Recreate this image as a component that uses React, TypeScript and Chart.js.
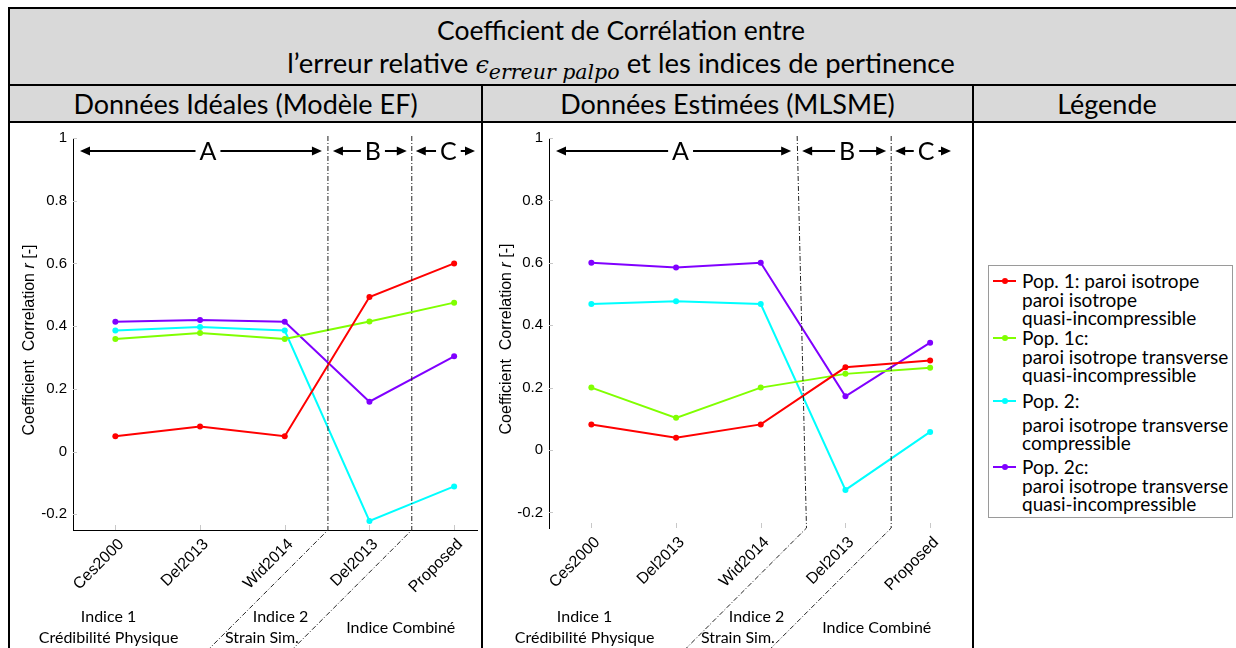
import React, { useEffect, useRef } from 'react';
import { Chart, registerables } from 'chart.js';

Chart.register(...registerables);

// ---------- data ----------
const categories = ['Ces2000', 'Del2013', 'Wid2014', 'Del2013', 'Proposed'];
const seriesNames = ['Pop. 1', 'Pop. 1c', 'Pop. 2', 'Pop. 2c'];
const seriesColors = ['#ff0000', '#80ff00', '#00ffff', '#8000ff'];

const idealPop1 = [0.049, 0.080, 0.049, 0.493, 0.600];
const idealPop1c = [0.359, 0.378, 0.359, 0.415, 0.475];
const idealPop2 = [0.386, 0.397, 0.386, -0.221, -0.111];
const idealPop2c = [0.414, 0.420, 0.414, 0.159, 0.304];

const estPop1 = [0.082, 0.039, 0.082, 0.265, 0.287];
const estPop1c = [0.200, 0.103, 0.200, 0.244, 0.264];
const estPop2 = [0.468, 0.477, 0.468, -0.128, 0.058];
const estPop2c = [0.600, 0.585, 0.600, 0.172, 0.344];

const yTickValues = [-0.2, 0, 0.2, 0.4, 0.6, 0.8, 1];
const yTickLabels = ['-0.2', '0', '0.2', '0.4', '0.6', '0.8', '1'];

const groupLetters = ['A', 'B', 'C'];
const groupLabelLines = [['Indice 1', 'Crédibilité Physique'], ['Indice 2', 'Strain Sim.'], ['Indice Combiné']];

const legendLines = [
  ['Pop. 1: paroi isotrope', 'paroi isotrope', 'quasi-incompressible'],
  ['Pop. 1c:', 'paroi isotrope transverse', 'quasi-incompressible'],
  ['Pop. 2:', 'paroi isotrope transverse', 'compressible'],
  ['Pop. 2c:', 'paroi isotrope transverse', 'quasi-incompressible'],
];

const UI_FONT = 'Lato, "Open Sans", sans-serif';
const AX_FONT = '"Liberation Sans", Arial, sans-serif';
const MATH_FONT = '"DejaVu Serif", serif';

type ChartProps = {
  series: number[][];
  xLine: boolean;
  dividers: { top: number; bottom: number }[];
  rightPad: number;
  xHeight: number;
  yWidth: number;
  titleX: number;
};

function annotationPlugin(props: ChartProps) {
  return {
    id: 'annot',
    afterDraw(chart: any) {
      const { ctx, chartArea: ca, scales } = chart;
      const xs = scales.x;
      const ys = scales.y;
      const H = chart.height;
      ctx.save();
      // small inner ticks
      ctx.strokeStyle = '#c8c8c8';
      ctx.lineWidth = 1;
      ctx.setLineDash([]);
      categories.forEach((_, i) => {
        const px = Math.round(xs.getPixelForValue(i)) + 0.5;
        ctx.beginPath();
        ctx.moveTo(px, ca.bottom);
        ctx.lineTo(px, ca.bottom - 5);
        ctx.stroke();
      });
      yTickValues.forEach((v) => {
        const py = Math.round(ys.getPixelForValue(v)) + 0.5;
        ctx.beginPath();
        ctx.moveTo(ca.left, py);
        ctx.lineTo(ca.left + 4, py);
        ctx.stroke();
      });
      // dividers
      ctx.strokeStyle = '#222';
      ctx.lineWidth = 1;
      ctx.setLineDash([5, 2, 1, 2]);
      const divTop: number[] = [];
      props.dividers.forEach((d) => {
        const xt = xs.getPixelForValue(d.top);
        const xb = xs.getPixelForValue(d.bottom);
        divTop.push(xt);
        ctx.beginPath();
        ctx.moveTo(xt, ca.top - 2);
        ctx.lineTo(xb, ca.bottom);
        ctx.lineTo(xb - (H - ca.bottom) * 1.0, H);
        ctx.stroke();
      });
      ctx.setLineDash([]);
      // arrows
      const segs = [
        [ca.left + 7, divTop[0] - 6],
        [divTop[0] + 5, divTop[1] - 5],
        [divTop[1] + 4, ca.right - 2],
      ];
      const ay = ca.top + 13;
      ctx.font = '25px ' + UI_FONT;
      ctx.textAlign = 'center';
      ctx.textBaseline = 'middle';
      ctx.fillStyle = '#000';
      ctx.strokeStyle = '#000';
      ctx.lineWidth = 2;
      segs.forEach(([a, b], k) => {
        const mid = (a + b) / 2 + (k === 0 ? 7 : 3);
        const half = ctx.measureText(groupLetters[k]).width / 2 + 4;
        ctx.beginPath();
        ctx.moveTo(a + 6, ay);
        ctx.lineTo(mid - half, ay);
        ctx.moveTo(mid + half, ay);
        ctx.lineTo(b - 6, ay);
        ctx.stroke();
        ctx.beginPath();
        ctx.moveTo(a, ay);
        ctx.lineTo(a + 10, ay - 4.5);
        ctx.lineTo(a + 10, ay + 4.5);
        ctx.closePath();
        ctx.moveTo(b, ay);
        ctx.lineTo(b - 10, ay - 4.5);
        ctx.lineTo(b - 10, ay + 4.5);
        ctx.closePath();
        ctx.fill();
        ctx.fillText(groupLetters[k], mid, ay + 1);
      });
      // group labels under the axis
      ctx.font = '16px ' + UI_FONT;
      ctx.fillStyle = '#000';
      const lblX = [[-0.08, -0.08], [1.95, 1.73], [3.37]];
      const lblY = [[H - 31, H - 10], [H - 31, H - 10], [H - 20]];
      groupLabelLines.forEach((lines, g) => {
        lines.forEach((t, j) => {
          ctx.fillText(t, xs.getPixelForValue(lblX[g][j]), lblY[g][j]);
        });
      });
      // y axis title with italic r
      ctx.translate(props.titleX, (ca.top + ca.bottom) / 2 + 6);
      ctx.rotate(-Math.PI / 2);
      const p1 = 'Coefficient  Correlation ';
      const p2 = 'r';
      const p3 = ' [-]';
      const fs = 16;
      ctx.font = fs + 'px ' + AX_FONT;
      const w1 = ctx.measureText(p1).width;
      const w3 = ctx.measureText(p3).width;
      ctx.font = 'italic ' + fs + 'px ' + AX_FONT;
      const w2 = ctx.measureText(p2).width;
      let x0 = -(w1 + w2 + w3) / 2;
      ctx.textAlign = 'left';
      ctx.font = fs + 'px ' + AX_FONT;
      ctx.fillText(p1, x0, 0);
      x0 += w1;
      ctx.font = 'italic ' + fs + 'px ' + AX_FONT;
      ctx.fillText(p2, x0, 0);
      x0 += w2;
      ctx.font = fs + 'px ' + AX_FONT;
      ctx.fillText(p3, x0, 0);
      ctx.restore();
    },
  };
}

function LineChart(props: ChartProps & { left: number; width: number }) {
  const ref = useRef<HTMLCanvasElement>(null);
  useEffect(() => {
    if (!ref.current) return;
    const chart = new Chart(ref.current, {
      type: 'line',
      data: {
        datasets: props.series.map((vals, s) => ({
          label: seriesNames[s],
          data: vals.map((v, i) => ({ x: i, y: v })),
          borderColor: seriesColors[s],
          backgroundColor: seriesColors[s],
          pointBackgroundColor: seriesColors[s],
          pointBorderWidth: 0,
          pointRadius: 3,
          borderWidth: 2,
          tension: 0,
        })),
      },
      options: {
        animation: false,
        responsive: false,
        devicePixelRatio: 1,
        events: [],
        layout: { padding: { left: 0, top: 12, right: props.rightPad, bottom: 0 } },
        plugins: { legend: { display: false }, tooltip: { enabled: false } },
        scales: {
          x: {
            type: 'linear',
            min: -0.5,
            max: 4.27,
            afterBuildTicks: (s: any) => {
              s.ticks = categories.map((_, i) => ({ value: i }));
            },
            afterFit: (s: any) => {
              s.height = props.xHeight;
            },
            ticks: {
              callback: (_v: any, i: number) => categories[i],
              minRotation: 45,
              maxRotation: 45,
              autoSkip: false,
              padding: 5,
              labelOffset: 6,
              color: '#000',
              font: { family: AX_FONT, size: 16 },
            },
            grid: { display: false, drawTicks: false },
            border: { display: props.xLine, color: '#000', width: 1 },
          },
          y: {
            type: 'linear',
            min: -0.25,
            max: 1,
            afterBuildTicks: (s: any) => {
              s.ticks = yTickValues.map((v) => ({ value: v }));
            },
            afterFit: (s: any) => {
              s.width = props.yWidth;
            },
            ticks: {
              callback: (_v: any, i: number) => yTickLabels[i],
              padding: 6,
              color: '#000',
              font: { family: AX_FONT, size: 15 },
            },
            grid: { display: false, drawTicks: false },
            border: { display: true, color: '#000', width: 1 },
          },
        },
      },
      plugins: [annotationPlugin(props)],
    } as any);
    return () => chart.destroy();
  }, []);
  return (
    <canvas
      ref={ref}
      width={props.width}
      height={525}
      style={{ position: 'absolute', left: props.left, top: 123, width: props.width, height: 525 }}
    />
  );
}

const box = (l: number, t: number, w: number, h: number, bg: string): React.CSSProperties => ({
  position: 'absolute',
  left: l,
  top: t,
  width: w,
  height: h,
  background: bg,
});

export default function App() {
  const gray = '#d9d9d9';
  const txt = (l: number, t: number, w: number, h: number, size: number): React.CSSProperties => ({
    position: 'absolute',
    left: l,
    top: t,
    width: w,
    height: h,
    lineHeight: h + 'px',
    textAlign: 'center',
    fontFamily: UI_FONT,
    fontSize: size,
    color: '#000',
    whiteSpace: 'nowrap',
  });
  return (
    <div style={{ position: 'absolute', left: 0, top: 0, width: 1236, height: 648, overflow: 'hidden', background: '#fff' }}>
      <div style={box(8, 8, 1240, 77, gray)} />
      <div style={box(8, 85, 1240, 37, gray)} />
      <div style={txt(8, 13, 1226, 34, 26.5)}>Coefficient de Corrélation entre</div>
      <div style={txt(8, 46, 1226, 34, 27.5)}>
        l’erreur relative{' '}
        <span style={{ fontFamily: MATH_FONT, fontStyle: 'italic', fontSize: 24 }}>ϵ</span>
        <span style={{ fontFamily: MATH_FONT, fontStyle: 'italic', fontSize: 20.5, position: 'relative', top: 6 }}>
          erreur palpo
        </span>{' '}
        et les indices de pertinence
      </div>
      <div style={txt(10, 86, 471, 35, 27)}>Données Idéales (Modèle EF)</div>
      <div style={txt(483, 86, 489, 35, 27)}>Données Estimées (MLSME)</div>
      <div style={txt(974, 86, 266, 35, 27)}>Légende</div>

      <LineChart
        left={11}
        width={470}
        series={[idealPop1, idealPop1c, idealPop2, idealPop2c]}
        xLine={true}
        dividers={[{ top: 2.51, bottom: 2.51 }, { top: 3.5, bottom: 3.5 }]}
        rightPad={4}
        xHeight={118}
        yWidth={62}
        titleX={19}
      />
      <LineChart
        left={485}
        width={486}
        series={[estPop1, estPop1c, estPop2, estPop2c]}
        xLine={false}
        dividers={[{ top: 2.43, bottom: 2.54 }, { top: 3.54, bottom: 3.54 }]}
        rightPad={18}
        xHeight={120}
        yWidth={64}
        titleX={22}
      />

      {/* legend */}
      <div style={{ position: 'absolute', left: 988, top: 265, width: 243, height: 251, border: '1px solid #9a9a9a', background: '#fff' }} />
      {legendLines.map((lines, s) => {
        const tops = [[281, 300, 318], [338, 357, 375], [401, 425, 443], [467, 486, 504]][s];
        return (
          <React.Fragment key={s}>
            <div style={{ position: 'absolute', left: 993, top: tops[0] - 1, width: 23, height: 2, background: seriesColors[s] }} />
            <div style={{ position: 'absolute', left: 1002, top: tops[0] - 3, width: 6, height: 6, borderRadius: 3, background: seriesColors[s] }} />
            {lines.map((t, j) => (
              <div
                key={j}
                style={{
                  position: 'absolute',
                  left: 1022,
                  top: tops[j] - 11,
                  height: 22,
                  lineHeight: '22px',
                  fontFamily: UI_FONT,
                  fontSize: 19,
                  whiteSpace: 'nowrap',
                  color: '#000',
                }}
              >
                {t}
              </div>
            ))}
          </React.Fragment>
        );
      })}

      {/* table lines */}
      <div style={box(8, 7, 1240, 2, '#000')} />
      <div style={box(8, 7, 2, 660, '#000')} />
      <div style={box(8, 84, 1240, 2, '#000')} />
      <div style={box(8, 121, 1240, 2, '#000')} />
      <div style={box(481, 84, 2, 600, '#000')} />
      <div style={box(972, 84, 2, 600, '#000')} />
    </div>
  );
}
